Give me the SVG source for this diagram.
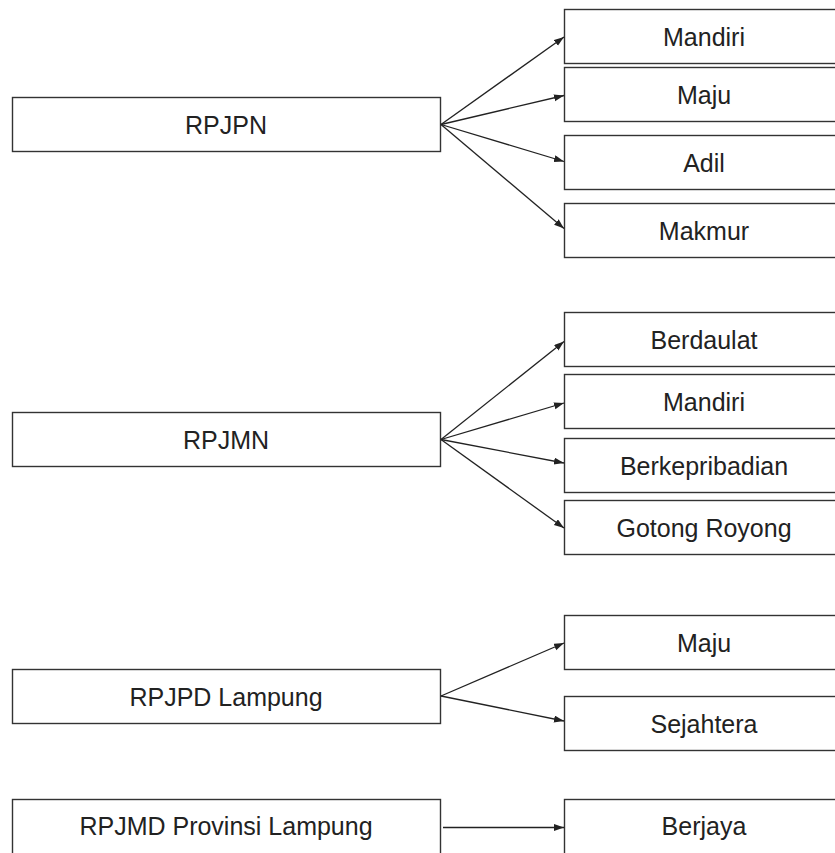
<svg xmlns="http://www.w3.org/2000/svg" width="835" height="853" viewBox="0 0 835 853">
  <style>
    .box { fill: #ffffff; stroke: #333333; stroke-width: 1.4; }
    .label { font-family: "Liberation Sans", Arial, sans-serif; font-size: 25px; fill: #222222; text-anchor: middle; }
    .link { fill: none; stroke: #222222; stroke-width: 1.3; marker-end: url(#head); }
  </style>
  <defs>
    <marker id="head" markerUnits="userSpaceOnUse" markerWidth="11" markerHeight="8" refX="10" refY="3.5" orient="auto">
      <path d="M0,0 L10,3.5 L0,7 z" fill="#222222"/>
    </marker>
  </defs>
  <rect width="835" height="853" fill="#ffffff"/>

  <!-- RPJPN group -->
  <g id="rpjpn"><rect class="box" x="12.5" y="97.5" width="428" height="54"/><text class="label" x="226" y="133.5">RPJPN</text></g>
  <g id="rpjpn-mandiri"><rect class="box" x="564.5" y="9.5" width="280" height="54"/><text class="label" x="704" y="45.5">Mandiri</text></g>
  <g id="rpjpn-maju"><rect class="box" x="564.5" y="67.5" width="280" height="54"/><text class="label" x="704" y="103.5">Maju</text></g>
  <g id="rpjpn-adil"><rect class="box" x="564.5" y="135.5" width="280" height="54"/><text class="label" x="704" y="171.5">Adil</text></g>
  <g id="rpjpn-makmur"><rect class="box" x="564.5" y="203.5" width="280" height="54"/><text class="label" x="704" y="239.5">Makmur</text></g>

  <!-- RPJMN group -->
  <g id="rpjmn"><rect class="box" x="12.5" y="412.5" width="428" height="54"/><text class="label" x="226" y="448.5">RPJMN</text></g>
  <g id="rpjmn-berdaulat"><rect class="box" x="564.5" y="312.5" width="280" height="54"/><text class="label" x="704" y="348.5">Berdaulat</text></g>
  <g id="rpjmn-mandiri"><rect class="box" x="564.5" y="374.5" width="280" height="54"/><text class="label" x="704" y="410.5">Mandiri</text></g>
  <g id="rpjmn-berkepribadian"><rect class="box" x="564.5" y="438.5" width="280" height="54"/><text class="label" x="704" y="474.5">Berkepribadian</text></g>
  <g id="rpjmn-gotong-royong"><rect class="box" x="564.5" y="500.5" width="280" height="54"/><text class="label" x="704" y="536.5">Gotong Royong</text></g>

  <!-- RPJPD Lampung group -->
  <g id="rpjpd"><rect class="box" x="12.5" y="669.5" width="428" height="54"/><text class="label" x="226" y="705.5">RPJPD Lampung</text></g>
  <g id="rpjpd-maju"><rect class="box" x="564.5" y="615.5" width="280" height="54"/><text class="label" x="704" y="651.5">Maju</text></g>
  <g id="rpjpd-sejahtera"><rect class="box" x="564.5" y="696.5" width="280" height="54"/><text class="label" x="704" y="732.5">Sejahtera</text></g>

  <!-- RPJMD Provinsi Lampung group -->
  <g id="rpjmd"><rect class="box" x="12.5" y="799.5" width="428" height="56"/><text class="label" x="226" y="835">RPJMD Provinsi Lampung</text></g>
  <g id="rpjmd-berjaya"><rect class="box" x="564.5" y="799.5" width="280" height="56"/><text class="label" x="704" y="835">Berjaya</text></g>

  <!-- connectors -->
  <g id="connectors">
    <line class="link" x1="441" y1="124.5" x2="564" y2="37"/>
    <line class="link" x1="441" y1="124.5" x2="564" y2="95.5"/>
    <line class="link" x1="441" y1="124.5" x2="564" y2="161.5"/>
    <line class="link" x1="441" y1="124.5" x2="564" y2="228.5"/>

    <line class="link" x1="441" y1="439.5" x2="564" y2="341.5"/>
    <line class="link" x1="441" y1="439.5" x2="564" y2="403"/>
    <line class="link" x1="441" y1="439.5" x2="564" y2="463"/>
    <line class="link" x1="441" y1="439.5" x2="564" y2="528"/>

    <line class="link" x1="441" y1="696" x2="564" y2="643"/>
    <line class="link" x1="441" y1="696" x2="564" y2="721"/>

    <line class="link" x1="443" y1="827.5" x2="564" y2="827.5"/>
  </g>
</svg>
